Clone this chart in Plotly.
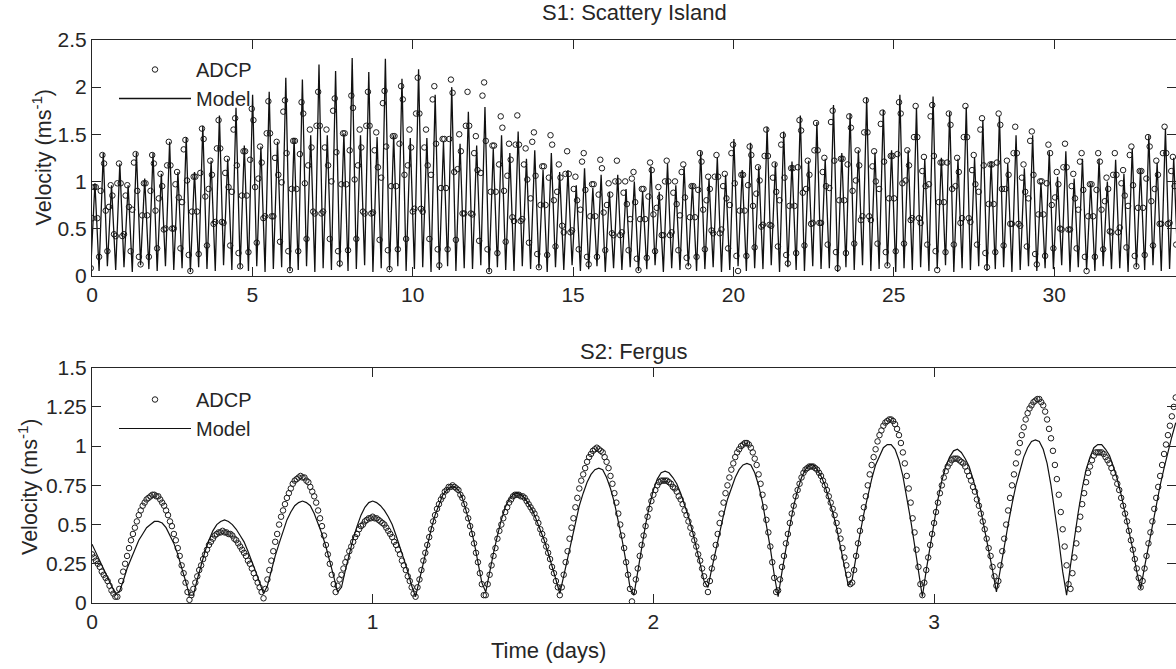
import numpy as np
import plotly.graph_objects as go

# ---------------- S1: Scattery Island (top panel) ----------------
s1_start = -0.0379        # time of first speed minimum (days)
s1_half_cycle = 0.25875   # spacing between successive speed maxima (days)

# model speed maxima, alternating small / big
s1_small_peaks = [0.98, 0.96, 0.96, 1.03, 1.08, 1.10, 1.10, 1.22, 1.24, 1.38,
                  1.37, 1.42, 1.46, 1.49, 1.49, 1.51, 1.49, 1.47, 1.49, 1.46,
                  1.46, 1.42, 1.40, 1.38, 1.35, 1.30, 1.24, 1.12, 1.10, 0.96,
                  0.93, 0.89, 0.92, 0.89, 0.89, 0.96, 0.97, 1.03, 1.07, 1.12,
                  1.16, 1.20, 1.21, 1.22, 1.24, 1.30, 1.33, 1.31, 1.33, 1.33,
                  1.24, 1.25, 1.24, 1.25, 1.21, 1.19, 1.14, 0.99, 1.05, 1.03,
                  0.98, 1.00, 1.08, 1.13, 1.20, 1.25]
s1_big_peaks = [1.30, 1.19, 1.31, 1.30, 1.42, 1.47, 1.59, 1.70, 1.78, 1.92,
                1.95, 2.10, 2.08, 2.24, 2.17, 2.31, 2.16, 2.30, 2.09, 2.19,
                1.92, 2.00, 1.74, 1.79, 1.49, 1.53, 1.33, 1.30, 1.12, 1.14,
                1.07, 1.07, 1.00, 1.16, 1.19, 1.16, 1.32, 1.26, 1.45, 1.41,
                1.58, 1.53, 1.70, 1.63, 1.81, 1.72, 1.89, 1.76, 1.92, 1.78,
                1.90, 1.74, 1.79, 1.65, 1.69, 1.49, 1.49, 1.32, 1.32, 1.24,
                1.24, 1.23, 1.35, 1.49, 1.56]
# model speed minima
s1_troughs = [0.08, 0.05, 0.10, 0.06, 0.09, 0.04, 0.11, 0.07, 0.05, 0.10, 0.06, 0.08, 0.04, 0.09, 0.07, 0.05, 0.11, 0.06, 0.08, 0.05,
              0.10, 0.04, 0.07, 0.09, 0.05, 0.06, 0.10, 0.04, 0.08, 0.06, 0.09, 0.05, 0.07, 0.11, 0.04, 0.08, 0.06, 0.10, 0.05, 0.07,
              0.09, 0.04, 0.06, 0.10, 0.05, 0.08, 0.07, 0.11, 0.04, 0.09, 0.06, 0.05, 0.10, 0.07, 0.08, 0.04, 0.09, 0.06, 0.11, 0.05,
              0.07, 0.10, 0.04, 0.08, 0.06, 0.09, 0.05, 0.07, 0.11, 0.04, 0.08, 0.06, 0.10, 0.05, 0.07, 0.09, 0.04, 0.06, 0.10, 0.05,
              0.08, 0.07, 0.11, 0.04, 0.09, 0.06, 0.05, 0.10, 0.07, 0.08, 0.04, 0.09, 0.06, 0.11, 0.05, 0.07, 0.10, 0.04, 0.08, 0.06,
              0.09, 0.05, 0.07, 0.11, 0.04, 0.08, 0.06, 0.10, 0.05, 0.07, 0.09, 0.04, 0.06, 0.10, 0.05, 0.08, 0.07, 0.11, 0.04, 0.09,
              0.06, 0.05, 0.10, 0.07, 0.08, 0.04, 0.09, 0.06, 0.11, 0.05, 0.07, 0.10]
# ADCP samples, five per half cycle
s1_adcp_per_half_cycle = 5
s1_adcp = [
    0.08, 0.61, 0.94, 0.94, 0.61,  0.20, 0.90, 1.28, 1.19, 0.69,  0.26, 0.73, 0.96, 0.85, 0.44,
    0.42, 0.98, 1.19, 0.98, 0.42,  0.44, 0.85, 0.96, 0.73, 0.26,  0.70, 1.20, 1.29, 0.90, 0.20,
    0.12, 0.64, 0.98, 0.98, 0.64,  0.20, 0.90, 1.28, 1.19, 0.69,  0.29, 0.82, 1.08, 0.95, 0.49,
    0.50, 1.17, 1.42, 1.17, 0.50,  0.50, 0.97, 1.10, 0.83, 0.29,  0.78, 1.34, 1.44, 1.01, 0.22,
    0.05, 0.68, 1.05, 1.05, 0.68,  0.23, 1.09, 1.56, 1.45, 0.84,  0.32, 0.92, 1.22, 1.07, 0.55,
    0.57, 1.35, 1.65, 1.35, 0.57,  0.56, 1.09, 1.24, 0.94, 0.32,  0.89, 1.55, 1.67, 1.17, 0.24,
    0.10, 0.85, 1.32, 1.32, 0.85,  0.25, 1.23, 1.77, 1.65, 0.94,  0.35, 1.03, 1.37, 1.20, 0.61,
    0.63, 1.51, 1.85, 1.51, 0.63,  0.63, 1.25, 1.42, 1.07, 0.36,  0.99, 1.74, 1.86, 1.30, 0.26,
    0.06, 0.92, 1.43, 1.43, 0.92,  0.26, 1.29, 1.84, 1.72, 0.98,  0.39, 1.17, 1.55, 1.36, 0.68,
    0.66, 1.59, 1.95, 1.59, 0.66,  0.68, 1.36, 1.55, 1.17, 0.39,  1.00, 1.75, 1.88, 1.31, 0.26,
    0.13, 0.97, 1.51, 1.51, 0.97,  0.27, 1.33, 1.91, 1.78, 1.02,  0.39, 1.17, 1.55, 1.36, 0.68,
    0.66, 1.59, 1.95, 1.59, 0.66,  0.67, 1.33, 1.52, 1.15, 0.38,  1.04, 1.83, 1.96, 1.37, 0.27,
    0.07, 0.95, 1.48, 1.48, 0.95,  0.28, 1.40, 2.01, 1.87, 1.07,  0.39, 1.17, 1.55, 1.36, 0.68,
    0.71, 1.72, 2.10, 1.72, 0.71,  0.68, 1.36, 1.55, 1.17, 0.39,  1.07, 1.87, 2.01, 1.40, 0.28,
    0.11, 0.93, 1.45, 1.45, 0.93,  0.28, 1.45, 2.08, 1.94, 1.10,  0.38, 1.13, 1.50, 1.32, 0.66,
    0.66, 1.59, 1.95, 1.59, 0.66,  0.65, 1.30, 1.48, 1.12, 0.37,  1.09, 1.91, 2.05, 1.43, 0.28,
    0.05, 0.89, 1.38, 1.38, 0.89,  0.24, 1.18, 1.69, 1.57, 0.90,  0.36, 1.06, 1.40, 1.23, 0.62,
    0.58, 1.39, 1.70, 1.39, 0.58,  0.60, 1.18, 1.35, 1.02, 0.35,  0.82, 1.42, 1.52, 1.06, 0.23,
    0.09, 0.75, 1.16, 1.16, 0.75,  0.22, 1.04, 1.49, 1.39, 0.80,  0.31, 0.89, 1.18, 1.04, 0.53,
    0.46, 1.08, 1.32, 1.08, 0.46,  0.48, 0.92, 1.05, 0.80, 0.28,  0.70, 1.21, 1.30, 0.91, 0.20,
    0.12, 0.63, 0.97, 0.97, 0.63,  0.20, 0.86, 1.23, 1.14, 0.67,  0.27, 0.75, 0.98, 0.86, 0.45,
    0.43, 1.00, 1.22, 1.00, 0.43,  0.46, 0.88, 1.00, 0.76, 0.27,  0.60, 1.03, 1.10, 0.78, 0.18,
    0.06, 0.60, 0.92, 0.92, 0.60,  0.19, 0.84, 1.20, 1.12, 0.65,  0.26, 0.72, 0.94, 0.83, 0.43,
    0.43, 1.00, 1.22, 1.00, 0.43,  0.46, 0.88, 1.00, 0.76, 0.27,  0.64, 1.10, 1.18, 0.83, 0.19,
    0.10, 0.62, 0.95, 0.95, 0.62,  0.20, 0.91, 1.30, 1.21, 0.70,  0.28, 0.80, 1.05, 0.92, 0.48,
    0.45, 1.05, 1.28, 1.05, 0.45,  0.49, 0.95, 1.08, 0.82, 0.29,  0.75, 1.30, 1.39, 0.98, 0.21,
    0.05, 0.69, 1.07, 1.07, 0.69,  0.21, 0.96, 1.37, 1.28, 0.74,  0.30, 0.87, 1.15, 1.01, 0.52,
    0.54, 1.27, 1.55, 1.27, 0.54,  0.53, 1.04, 1.18, 0.89, 0.31,  0.80, 1.39, 1.49, 1.04, 0.22,
    0.13, 0.74, 1.14, 1.14, 0.74,  0.24, 1.15, 1.65, 1.54, 0.88,  0.32, 0.92, 1.22, 1.07, 0.55,
    0.56, 1.33, 1.62, 1.33, 0.56,  0.56, 1.10, 1.25, 0.95, 0.33,  0.93, 1.63, 1.75, 1.22, 0.25,
    0.08, 0.80, 1.24, 1.24, 0.80,  0.24, 1.18, 1.69, 1.57, 0.90,  0.34, 1.01, 1.33, 1.17, 0.59,
    0.63, 1.52, 1.86, 1.52, 0.63,  0.59, 1.16, 1.32, 1.00, 0.34,  0.92, 1.61, 1.73, 1.21, 0.25,
    0.11, 0.82, 1.27, 1.27, 0.82,  0.26, 1.29, 1.84, 1.72, 0.98,  0.34, 1.01, 1.33, 1.17, 0.59,
    0.61, 1.47, 1.80, 1.47, 0.61,  0.56, 1.11, 1.26, 0.95, 0.33,  0.97, 1.69, 1.81, 1.27, 0.26,
    0.06, 0.78, 1.20, 1.20, 0.78,  0.25, 1.20, 1.72, 1.60, 0.92,  0.33, 0.95, 1.25, 1.10, 0.56,
    0.61, 1.47, 1.80, 1.47, 0.61,  0.57, 1.12, 1.28, 0.97, 0.33,  0.89, 1.55, 1.67, 1.17, 0.24,
    0.09, 0.76, 1.18, 1.18, 0.76,  0.25, 1.20, 1.72, 1.60, 0.92,  0.32, 0.92, 1.22, 1.07, 0.55,
    0.55, 1.30, 1.58, 1.30, 0.55,  0.53, 1.04, 1.18, 0.89, 0.31,  0.82, 1.43, 1.53, 1.07, 0.23,
    0.12, 0.65, 1.00, 1.00, 0.65,  0.21, 0.98, 1.39, 1.30, 0.75,  0.29, 0.83, 1.10, 0.97, 0.50,
    0.49, 1.15, 1.40, 1.15, 0.49,  0.49, 0.95, 1.08, 0.82, 0.29,  0.70, 1.21, 1.30, 0.91, 0.20,
    0.05, 0.63, 0.97, 0.97, 0.63,  0.20, 0.91, 1.30, 1.21, 0.70,  0.28, 0.79, 1.04, 0.92, 0.47,
    0.46, 1.07, 1.30, 1.07, 0.46,  0.51, 0.98, 1.12, 0.85, 0.30,  0.74, 1.28, 1.37, 0.96, 0.21,
    0.10, 0.72, 1.11, 1.11, 0.72,  0.22, 1.03, 1.47, 1.37, 0.79,  0.32, 0.92, 1.22, 1.07, 0.55,
    0.55, 1.30, 1.58, 1.30, 0.55,  0.56, 1.11, 1.26, 0.95, 0.33,
]

# ---------------- S2: Fergus (bottom panel) ----------------
s2_adcp_dt = 1.0 / 144.0   # 10-minute ADCP ensembles (days)
s2_adcp = [
    0.31, 0.29, 0.27, 0.25, 0.23, 0.20, 0.18, 0.16, 0.14, 0.11, 0.08, 0.06, 0.04,
    0.04, 0.09, 0.14, 0.20, 0.25, 0.30, 0.35, 0.40, 0.44, 0.48, 0.52, 0.56, 0.59, 0.62, 0.64, 0.66, 0.67, 0.68, 0.69,
    0.69, 0.68, 0.68, 0.66, 0.64, 0.62, 0.59, 0.56, 0.52, 0.49, 0.44, 0.40, 0.35, 0.30, 0.24, 0.19, 0.13, 0.07, 0.02,
    0.05, 0.09, 0.13, 0.17, 0.21, 0.24, 0.28, 0.31, 0.34, 0.37, 0.39, 0.41, 0.43, 0.44, 0.45, 0.45,
    0.46, 0.45, 0.45, 0.44, 0.44, 0.43, 0.41, 0.40, 0.38, 0.36, 0.34, 0.32, 0.30, 0.27, 0.25, 0.22, 0.19, 0.16, 0.13, 0.10, 0.07, 0.03,
    0.09, 0.15, 0.21, 0.27, 0.33, 0.39, 0.44, 0.50, 0.55, 0.59, 0.63, 0.67, 0.70, 0.73, 0.76, 0.78, 0.79, 0.80, 0.81,
    0.80, 0.80, 0.78, 0.77, 0.74, 0.71, 0.68, 0.64, 0.59, 0.54, 0.49, 0.43, 0.37, 0.31, 0.25, 0.18, 0.12,
    0.07, 0.11, 0.15, 0.18, 0.22, 0.26, 0.29, 0.33, 0.36, 0.39, 0.42, 0.44, 0.47, 0.49, 0.50, 0.52, 0.53, 0.54, 0.54, 0.55,
    0.54, 0.54, 0.53, 0.52, 0.51, 0.50, 0.48, 0.46, 0.44, 0.42, 0.39, 0.37, 0.34, 0.31, 0.27, 0.24, 0.21, 0.17, 0.14, 0.10, 0.06,
    0.04, 0.10, 0.15, 0.21, 0.27, 0.32, 0.37, 0.42, 0.47, 0.52, 0.56, 0.60, 0.63, 0.66, 0.68, 0.71, 0.72, 0.74, 0.74, 0.75,
    0.74, 0.73, 0.72, 0.69, 0.67, 0.63, 0.59, 0.54, 0.49, 0.44, 0.38, 0.32, 0.26, 0.19, 0.12, 0.05,
    0.05, 0.12, 0.18, 0.24, 0.30, 0.35, 0.41, 0.46, 0.50, 0.54, 0.58, 0.61, 0.64, 0.66, 0.68, 0.69, 0.69,
    0.69, 0.68, 0.68, 0.67, 0.65, 0.63, 0.61, 0.59, 0.57, 0.54, 0.51, 0.47, 0.44, 0.40, 0.36, 0.32, 0.28, 0.23, 0.19, 0.14, 0.10, 0.05,
    0.10, 0.18, 0.26, 0.33, 0.41, 0.48, 0.54, 0.61, 0.67, 0.73, 0.78, 0.82, 0.86, 0.90, 0.93, 0.95, 0.97, 0.98, 0.99,
    0.98, 0.97, 0.96, 0.93, 0.90, 0.86, 0.81, 0.76, 0.70, 0.64, 0.57, 0.50, 0.43, 0.35, 0.26, 0.18, 0.09, 0.01,
    0.07, 0.15, 0.22, 0.30, 0.37, 0.43, 0.49, 0.55, 0.60, 0.65, 0.69, 0.72, 0.75, 0.77, 0.78, 0.78,
    0.78, 0.78, 0.77, 0.76, 0.74, 0.73, 0.71, 0.68, 0.66, 0.63, 0.59, 0.56, 0.52, 0.48, 0.44, 0.40, 0.36, 0.31, 0.27, 0.22, 0.17, 0.12, 0.07,
    0.14, 0.22, 0.29, 0.37, 0.44, 0.51, 0.57, 0.64, 0.70, 0.75, 0.80, 0.85, 0.89, 0.93, 0.96, 0.98, 1.00, 1.01, 1.02,
    1.02, 1.01, 0.99, 0.96, 0.92, 0.88, 0.82, 0.76, 0.69, 0.61, 0.53, 0.45, 0.36, 0.26, 0.16, 0.07,
    0.08, 0.15, 0.23, 0.30, 0.38, 0.44, 0.51, 0.57, 0.62, 0.68, 0.72, 0.76, 0.80, 0.83, 0.85, 0.86, 0.87,
    0.87, 0.87, 0.86, 0.85, 0.83, 0.81, 0.78, 0.75, 0.72, 0.68, 0.64, 0.60, 0.56, 0.51, 0.46, 0.41, 0.35, 0.29, 0.24, 0.18, 0.12,
    0.13, 0.21, 0.30, 0.38, 0.46, 0.54, 0.61, 0.68, 0.75, 0.82, 0.88, 0.93, 0.98, 1.03, 1.07, 1.10, 1.13, 1.15, 1.16, 1.17,
    1.17, 1.16, 1.14, 1.11, 1.07, 1.02, 0.96, 0.89, 0.81, 0.73, 0.64, 0.54, 0.45, 0.34, 0.23, 0.12,
    0.05, 0.13, 0.21, 0.29, 0.37, 0.44, 0.51, 0.58, 0.64, 0.70, 0.75, 0.80, 0.84, 0.87, 0.89, 0.91, 0.92,
    0.92, 0.92, 0.91, 0.90, 0.89, 0.87, 0.84, 0.81, 0.78, 0.74, 0.71, 0.66, 0.62, 0.57, 0.52, 0.47, 0.41, 0.35, 0.30, 0.23, 0.17, 0.11,
    0.14, 0.24, 0.33, 0.41, 0.50, 0.59, 0.67, 0.75, 0.82, 0.89, 0.96, 1.02, 1.07, 1.12, 1.17, 1.21, 1.24, 1.26, 1.28, 1.29, 1.30,
    1.30, 1.28, 1.26, 1.22, 1.17, 1.11, 1.05, 0.97, 0.88, 0.79, 0.69, 0.58, 0.47, 0.36, 0.24, 0.12,
    0.09, 0.19, 0.29, 0.38, 0.47, 0.55, 0.63, 0.70, 0.77, 0.83, 0.87, 0.91, 0.94, 0.96, 0.96,
    0.96, 0.96, 0.95, 0.93, 0.91, 0.89, 0.86, 0.83, 0.80, 0.76, 0.72, 0.67, 0.62, 0.57, 0.52, 0.46, 0.40, 0.34, 0.28, 0.22, 0.16, 0.10,
    0.14, 0.22, 0.30, 0.38, 0.45, 0.52, 0.60, 0.67, 0.74, 0.81, 0.88, 0.95, 1.01, 1.07, 1.13, 1.19, 1.25, 1.31,
]
s2_model_dt = 1.0 / 72.0   # 20-minute model output (days)
s2_model = [
    0.375, 0.32, 0.27, 0.22, 0.16, 0.11, 0.06,
    0.07, 0.14, 0.22, 0.28, 0.34, 0.40, 0.44, 0.48, 0.50, 0.52,
    0.52, 0.51, 0.48, 0.43, 0.38, 0.31, 0.23, 0.14, 0.05,
    0.05, 0.15, 0.24, 0.33, 0.40, 0.46, 0.50, 0.52,
    0.53, 0.52, 0.50, 0.47, 0.43, 0.39, 0.33, 0.27, 0.20, 0.13, 0.06,
    0.11, 0.21, 0.30, 0.38, 0.46, 0.53, 0.58, 0.62, 0.64, 0.65,
    0.64, 0.62, 0.57, 0.51, 0.44, 0.36, 0.27, 0.17, 0.07,
    0.10, 0.21, 0.32, 0.41, 0.49, 0.56, 0.61, 0.64, 0.65,
    0.64, 0.62, 0.59, 0.55, 0.50, 0.43, 0.36, 0.28, 0.20, 0.11,
    0.04, 0.15, 0.27, 0.37, 0.47, 0.56, 0.63, 0.69, 0.72, 0.74,
    0.74, 0.72, 0.67, 0.59, 0.50, 0.39, 0.26, 0.13,
    0.07, 0.20, 0.32, 0.43, 0.53, 0.61, 0.66, 0.69,
    0.70, 0.69, 0.67, 0.63, 0.59, 0.53, 0.47, 0.40, 0.32, 0.24, 0.15, 0.06,
    0.17, 0.29, 0.41, 0.52, 0.62, 0.70, 0.77, 0.82, 0.85,
    0.86, 0.85, 0.80, 0.73, 0.64, 0.53, 0.40, 0.26, 0.10,
    0.05, 0.21, 0.36, 0.50, 0.62, 0.72, 0.79, 0.83,
    0.84, 0.83, 0.80, 0.76, 0.70, 0.63, 0.55, 0.46, 0.36, 0.25, 0.14,
    0.10, 0.22, 0.34, 0.46, 0.56, 0.66, 0.73, 0.80, 0.85, 0.88, 0.89,
    0.88, 0.83, 0.75, 0.64, 0.50, 0.35, 0.18,
    0.04, 0.20, 0.35, 0.49, 0.62, 0.72, 0.80, 0.85, 0.88,
    0.88, 0.85, 0.81, 0.75, 0.67, 0.58, 0.48, 0.36, 0.24, 0.11,
    0.15, 0.30, 0.44, 0.57, 0.69, 0.79, 0.88, 0.94, 0.99, 1.01,
    1.01, 0.98, 0.91, 0.81, 0.68, 0.53, 0.37, 0.19,
    0.04, 0.21, 0.37, 0.52, 0.66, 0.78, 0.87, 0.93, 0.97,
    0.98, 0.96, 0.92, 0.87, 0.79, 0.70, 0.59, 0.47, 0.34, 0.21,
    0.07, 0.22, 0.37, 0.50, 0.63, 0.75, 0.84, 0.93, 0.99, 1.03, 1.04,
    1.03, 0.98, 0.89, 0.75, 0.59, 0.40, 0.20,
    0.05, 0.24, 0.42, 0.58, 0.73, 0.85, 0.93, 0.99, 1.01,
    1.01, 0.98, 0.94, 0.87, 0.79, 0.69, 0.58, 0.46, 0.34, 0.20,
    0.09, 0.23, 0.36, 0.50, 0.62, 0.75, 0.86, 0.97, 1.06, 1.15,
]

# axis labels / ticks
s1_title = "S1: Scattery Island"
s2_title = "S2: Fergus"
y_label = "Velocity (ms<sup>-1</sup>)"
x_label = "Time (days)"
s1_xticks = [0, 5, 10, 15, 20, 25, 30]
s1_yticks = [0, 0.5, 1, 1.5, 2, 2.5]
s2_xticks = [0, 1, 2, 3]
s2_yticks = [0, 0.25, 0.5, 0.75, 1, 1.25, 1.5]

# ---------------- build traces ----------------
s1_peaks = []
for k in range(len(s1_small_peaks) + len(s1_big_peaks)):
    s1_peaks.append(s1_small_peaks[k // 2] if k % 2 == 0 else s1_big_peaks[k // 2])
s1_model = []
for k, p in enumerate(s1_peaks):
    s1_model.append(s1_troughs[k])
    s1_model.append(p)
s1_model.append(s1_troughs[len(s1_peaks)])
s1_model_t = s1_start + np.arange(len(s1_model)) * (s1_half_cycle / 2)
s1_adcp_t = s1_start + np.arange(len(s1_adcp)) * (s1_half_cycle / s1_adcp_per_half_cycle)
s2_adcp_t = np.arange(len(s2_adcp)) * s2_adcp_dt
s2_model_t = np.arange(len(s2_model)) * s2_model_dt

INK = "#262626"
FONT = "Liberation Sans, Arial, Helvetica, sans-serif"
marker_style = dict(symbol="circle-open", size=5.5, color="#1c1c1c", line=dict(width=1, color="#1c1c1c"))

fig = go.Figure()
fig.add_trace(go.Scatter(x=s1_adcp_t, y=s1_adcp, mode="markers", name="ADCP",
                         marker=marker_style, xaxis="x", yaxis="y", legend="legend"))
fig.add_trace(go.Scatter(x=s1_model_t, y=s1_model, mode="lines", name="Model",
                         line=dict(color="#111111", width=1.3), xaxis="x", yaxis="y", legend="legend"))
fig.add_trace(go.Scatter(x=s2_adcp_t, y=s2_adcp, mode="markers", name="ADCP",
                         marker=marker_style, xaxis="x2", yaxis="y2", legend="legend2"))
fig.add_trace(go.Scatter(x=s2_model_t, y=s2_model, mode="lines", name="Model",
                         line=dict(color="#111111", width=1.2), xaxis="x2", yaxis="y2", legend="legend2"))

# plot area 92..1176 x 40..603 in page pixels
W, H = 1176, 669
ML, MR, MT, MB = 92, 0, 40, 66
plot_h = H - MT - MB


def py(screen_y):
    return (H - MB - screen_y) / plot_h


def px(screen_x):
    return (screen_x - ML) / (W - ML - MR)


axis_common = dict(showline=True, linecolor=INK, linewidth=1, mirror="ticks",
                   ticks="inside", ticklen=9, tickwidth=1, tickcolor=INK,
                   showgrid=False, zeroline=False, automargin=False,
                   tickfont=dict(family=FONT, size=21, color=INK))

legend_common = dict(xanchor="left", yanchor="top", bgcolor="rgba(0,0,0,0)",
                     itemwidth=72, font=dict(family=FONT, size=20, color=INK), tracegroupgap=0)

fig.update_layout(
    width=W, height=H,
    margin=dict(l=ML, r=MR, t=MT, b=MB, autoexpand=False),
    paper_bgcolor="white", plot_bgcolor="white",
    font=dict(family=FONT, size=20, color=INK),
    xaxis=dict(domain=[0, 1], anchor="y", range=[0, 33.80], tickvals=s1_xticks, **axis_common),
    yaxis=dict(domain=[py(275.7), 1], anchor="x", range=[0, 2.5], tickvals=s1_yticks, **axis_common),
    xaxis2=dict(domain=[0, 1], anchor="y2", range=[0, 3.862], tickvals=s2_xticks, **axis_common),
    yaxis2=dict(domain=[0, py(367.7)], anchor="x2", range=[0, 1.5], tickvals=s2_yticks, **axis_common),
    legend=dict(x=px(114), y=py(50), **legend_common),
    legend2=dict(x=px(114), y=py(380), **legend_common),
    showlegend=True,
)

annotations = [
    dict(text=s1_title, x=0.5, y=py(12.5), xref="paper", yref="paper", showarrow=False,
         xanchor="center", yanchor="middle", font=dict(family=FONT, size=22, color=INK)),
    dict(text=s2_title, x=0.5, y=py(351), xref="paper", yref="paper", showarrow=False,
         xanchor="center", yanchor="middle", font=dict(family=FONT, size=22, color=INK)),
    dict(text=y_label, x=px(41), y=py(157.5), xref="paper", yref="paper", showarrow=False,
         textangle=-90, xanchor="center", yanchor="middle", font=dict(family=FONT, size=21.5, color=INK)),
    dict(text=y_label, x=px(28), y=py(487), xref="paper", yref="paper", showarrow=False,
         textangle=-90, xanchor="center", yanchor="middle", font=dict(family=FONT, size=21.5, color=INK)),
    dict(text=x_label, x=px(548), y=py(650), xref="paper", yref="paper", showarrow=False,
         xanchor="center", yanchor="middle", font=dict(family=FONT, size=22, color=INK)),
]
fig.update_layout(annotations=annotations)

# remove the browser's default 8 px page margin so the figure sits at the page origin
fig.write_html("out.html", config={"displayModeBar": False},
               post_script="document.body.style.margin='0px';")
